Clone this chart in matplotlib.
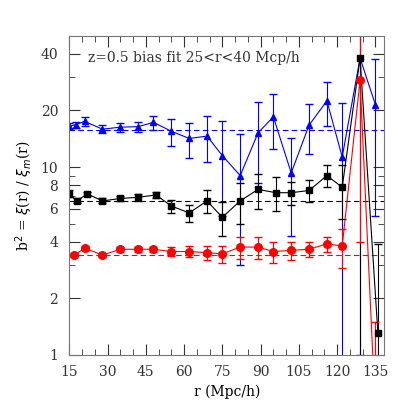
import matplotlib
matplotlib.use("Agg")
import matplotlib.pyplot as plt
from matplotlib.ticker import FixedLocator, NullFormatter, LogLocator

# blue triangles
r_blue = [15, 17.5, 21, 28, 35, 42, 48, 55, 62, 69, 75, 82, 89, 95, 102, 109, 116, 122, 129, 135]
b2_blue = [16.5, 16.8, 17.5, 15.9, 16.3, 16.4, 17.3, 15.5, 14.2, 14.6, 11.5, 9.0, 15.2, 18.5, 9.3, 16.7, 22.5, 11.3, 38.0, 21.5]
err_blue = [0.6, 0.6, 0.9, 0.8, 0.9, 1.0, 1.5, 2.5, 3.0, 4.0, 6.0, 6.0, 7.0, 6.0, 5.0, 5.0, 6.0, 10.5, 37.0, 16.0]
fit_blue = 15.7

# black squares
r_black = [15, 18, 22, 28, 35, 42, 49, 55, 62, 69, 75, 82, 89, 96, 102, 109, 116, 122, 129, 136]
b2_black = [7.2, 6.6, 7.2, 6.6, 6.8, 6.9, 7.1, 6.2, 5.7, 6.6, 5.4, 6.6, 7.6, 7.3, 7.3, 7.5, 9.0, 7.8, 38.0, 1.3]
err_black = [0.3, 0.2, 0.2, 0.2, 0.2, 0.3, 0.3, 0.5, 0.6, 0.9, 1.1, 1.6, 1.6, 1.5, 1.0, 1.0, 1.2, 2.5, 37.5, 2.6]
fit_black = 6.6

# red circles
r_red = [17, 21, 28, 35, 42, 48, 55, 62, 69, 75, 82, 89, 95, 102, 109, 116, 122, 129, 135]
b2_red = [3.4, 3.7, 3.4, 3.65, 3.65, 3.65, 3.55, 3.55, 3.5, 3.45, 3.75, 3.75, 3.55, 3.6, 3.65, 3.9, 3.8, 29.0, 0.5]
err_red = [0.1, 0.1, 0.1, 0.1, 0.1, 0.1, 0.2, 0.25, 0.3, 0.35, 0.5, 0.5, 0.45, 0.4, 0.35, 0.35, 0.9, 25.0, 1.0]
fit_red = 3.42

fig, ax = plt.subplots(figsize=(4.2, 4.2), dpi=100)
fig.subplots_adjust(left=0.165, right=0.915, top=0.915, bottom=0.155)

series = [
    (r_blue, b2_blue, err_blue, fit_blue, "blue", "^", 5),
    (r_black, b2_black, err_black, fit_black, "black", "s", 4.5),
    (r_red, b2_red, err_red, fit_red, "red", "o", 5.5),
]
for r, b, e, fit, c, m, ms in series:
    ax.errorbar(r, b, yerr=e, color=c, marker=m, ms=ms, lw=0.8, elinewidth=0.8,
                capsize=3, ecolor=c)
    ax.axhline(fit, color=c, ls="--", lw=0.8, dashes=(5, 3))

ax.set_yscale("log")
ax.set_xlim(15, 138.5)
ax.set_ylim(1, 50)
ax.set_xticks(range(15, 136, 15))
ax.xaxis.set_minor_locator(FixedLocator(range(15, 139, 5)))
ax.set_yticks([1, 2, 4, 6, 8, 10, 20, 40])
ax.set_yticklabels(["1", "2", "4", "6", "8", "10", "20", "40"])
ax.yaxis.set_minor_locator(LogLocator(subs=range(1, 10)))
ax.yaxis.set_minor_formatter(NullFormatter())
ax.tick_params(which="both", direction="in", top=True, right=True, labelsize=10, colors="#333333")
ax.tick_params(which="major", length=8)
ax.tick_params(which="minor", length=4)
ax.tick_params(axis="y", pad=8)
ax.tick_params(axis="x", pad=7)
for s in ax.spines.values():
    s.set_color("#777777")

ax.set_xlabel("r (Mpc/h)", family="serif", fontsize=10)
ax.set_ylabel(r"b$^2$ = $\xi$(r) / $\xi_m$(r)", family="serif", fontsize=10)
ax.text(0.06, 0.93, "z=0.5 bias fit 25<r<40 Mcp/h", transform=ax.transAxes,
        family="serif", fontsize=10, color="#333333", va="center")
for lab in ax.get_xticklabels() + ax.get_yticklabels():
    lab.set_family("serif")

fig.savefig("out.png", dpi=100)
